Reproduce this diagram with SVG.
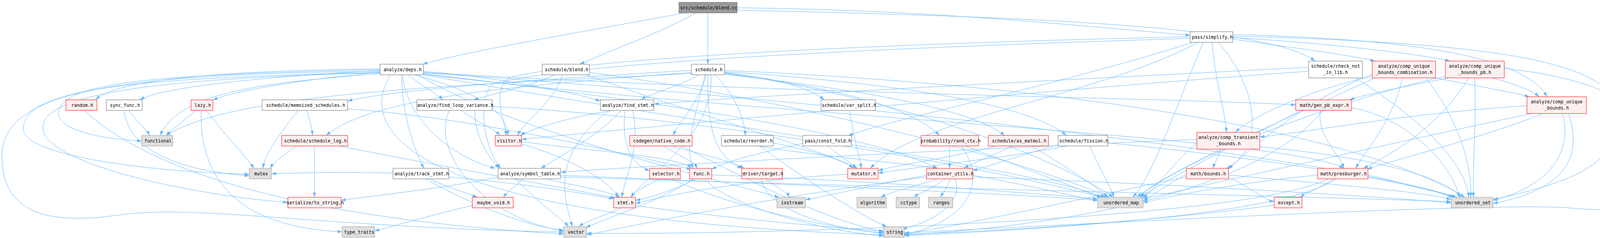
<svg xmlns="http://www.w3.org/2000/svg" width="4255" height="608" viewBox="0 0 4255 608">
<defs>
<marker id="ah" viewBox="0 0 12 8" refX="12" refY="4" markerWidth="12" markerHeight="8" orient="auto" markerUnits="userSpaceOnUse"><path d="M0,0 L12,4 L0,8 z" fill="#63B8FF"/></marker>
</defs>
<style>
.e{fill:none;stroke:#63B8FF;stroke-width:1;marker-end:url(#ah)}
.w{fill:#FFFFFF;stroke:#666666;stroke-width:1}
.r{fill:#FFF0F0;stroke:#FF0000;stroke-width:1}
.g{fill:#E0E0E0;stroke:#999999;stroke-width:1}
.root{fill:#999999;stroke:#666666;stroke-width:1}
text{font-family:"DejaVu Sans Mono","Liberation Mono",monospace;font-size:11.6px;fill:#000000;text-anchor:middle}
</style>
<rect width="4255" height="608" fill="#FFFFFF"/>
<g id="edges">
<path class="e" d="M1752,33 C1500,80 1200,130 1082,164"/>
<path class="e" d="M1782,33 C1700,80 1560,130 1484,164"/>
<path class="e" d="M1812,33 L1812,164"/>
<path class="e" d="M1887,20 C2400,25 2800,70 3047,90"/>
<path class="e" d="M1887,26 C2500,40 3250,60 3366,156"/>
<path class="e" d="M3156,100 C3300,120 3450,140 3520,156"/>
<path class="e" d="M3156,96 C3400,110 3650,140 3712,156"/>
<path class="e" d="M3156,88 C3600,100 3900,140 3960,247"/>
<path class="e" d="M3103,108 C3110,200 3135,280 3140,338"/>
<path class="e" d="M3118,108 C3220,220 3240,380 3140,430"/>
<path class="e" d="M3055,108 C2700,220 2300,300 2172,346"/>
<path class="e" d="M3068,108 C2800,250 2350,300 2228,430"/>
<path class="e" d="M3156,92 C3800,110 4150,150 4145,300 C4140,430 4000,470 3822,510"/>
<path class="e" d="M3080,108 C3000,300 2950,450 2900,504"/>
<path class="e" d="M3047,94 C2500,105 1500,140 1300,200 C1260,240 1290,300 1296,346"/>
<path class="e" d="M3047,98 C2500,115 1500,150 1260,215 C1220,260 1240,380 1282,430"/>
<path class="e" d="M3350,182 C2800,220 1700,320 1335,356"/>
<path class="e" d="M3064,356 C2500,380 1700,420 1435,440"/>
<path class="e" d="M973,176 C600,180 300,200 245,255"/>
<path class="e" d="M973,180 C700,195 420,220 358,255"/>
<path class="e" d="M975,184 C800,200 600,230 545,256"/>
<path class="e" d="M973,178 C400,190 150,210 150,290 C150,330 250,355 363,360"/>
<path class="e" d="M975,188 C700,210 460,230 410,346"/>
<path class="e" d="M973,185 C300,200 60,230 60,330 C60,400 400,440 638,445"/>
<path class="e" d="M973,186 C400,200 100,240 110,330 C120,420 500,500 737,517"/>
<path class="e" d="M973,182 C300,190 5,230 5,400 C5,560 150,570 300,550 C500,520 800,580 1443,593"/>
<path class="e" d="M1045,191 C1080,220 1120,240 1134,255"/>
<path class="e" d="M1084,182 C1300,200 1480,240 1537,258"/>
<path class="e" d="M1060,191 C1250,240 1300,300 1300,346"/>
<path class="e" d="M1030,191 C1040,300 1150,400 1268,430"/>
<path class="e" d="M1028,191 C1030,300 1060,380 1085,430"/>
<path class="e" d="M1084,188 C1600,250 2200,330 2400,430"/>
<path class="e" d="M1084,185 C2000,240 3000,250 3317,268"/>
<path class="e" d="M1084,190 C2000,300 3300,350 3440,430"/>
<path class="e" d="M1084,191 C1700,300 2600,420 2830,504"/>
<path class="e" d="M1084,186 C2200,260 3400,400 3730,504"/>
<path class="e" d="M1070,191 C1300,330 1800,450 1995,504"/>
<path class="e" d="M1000,191 C900,350 1100,560 2262,600"/>
<path class="e" d="M1420,191 C1360,220 1260,240 1212,255"/>
<path class="e" d="M1440,191 C1420,260 1340,310 1325,346"/>
<path class="e" d="M1500,191 C1800,300 2100,380 2195,430"/>
<path class="e" d="M1509,185 C2000,250 2600,400 2840,504"/>
<path class="e" d="M1770,180 C1400,200 1000,230 890,258"/>
<path class="e" d="M1770,185 C1300,220 950,250 835,346"/>
<path class="e" d="M1790,191 C1740,220 1660,240 1642,255"/>
<path class="e" d="M1808,191 C1790,260 1740,310 1723,346"/>
<path class="e" d="M1830,191 C1880,240 1905,300 1908,346"/>
<path class="e" d="M1805,191 C1780,300 1750,380 1775,430"/>
<path class="e" d="M1812,191 C1810,330 1830,400 1900,430"/>
<path class="e" d="M1855,185 C2000,200 2080,230 2110,255"/>
<path class="e" d="M1855,188 C2200,230 2350,290 2405,346"/>
<path class="e" d="M1855,190 C2300,240 2500,290 2572,346"/>
<path class="e" d="M1855,183 C2400,220 2650,280 2730,346"/>
<path class="e" d="M1770,188 C1100,220 600,240 425,346"/>
<path class="e" d="M1820,191 C1830,350 1650,450 1615,504"/>
<path class="e" d="M1855,186 C2300,250 2700,400 2850,504"/>
<path class="e" d="M1855,180 C2800,220 3500,350 3750,504"/>
<path class="e" d="M3350,172 C2800,200 2000,240 1674,266"/>
<path class="e" d="M3470,199 C3600,280 3750,400 3760,504"/>
<path class="e" d="M3675,199 C3780,220 3870,235 3915,247"/>
<path class="e" d="M3513,195 C3350,230 3200,300 3163,338"/>
<path class="e" d="M3650,199 C3730,300 3770,420 3765,504"/>
<path class="e" d="M3520,199 C3300,300 3000,430 2910,504"/>
<path class="e" d="M3513,190 C3350,250 3200,380 3145,432"/>
<path class="e" d="M3590,199 C3570,300 3500,380 3470,430"/>
<path class="e" d="M3710,199 C3600,220 3500,240 3455,255"/>
<path class="e" d="M3820,199 C3880,215 3920,230 3940,247"/>
<path class="e" d="M3760,199 C3680,330 3550,400 3490,430"/>
<path class="e" d="M3775,199 C3780,300 3770,420 3772,504"/>
<path class="e" d="M3851,175 C4100,200 4250,280 4250,400 C4250,560 4150,540 4000,530 C3800,520 3000,560 2315,595"/>
<path class="e" d="M3700,195 C3400,260 3000,420 2918,504"/>
<path class="e" d="M3909,270 C3600,290 3400,330 3225,350"/>
<path class="e" d="M3950,290 C3800,350 3600,400 3500,432"/>
<path class="e" d="M4000,290 C4030,400 3950,480 3822,512"/>
<path class="e" d="M4015,290 C4060,420 3980,490 3822,520"/>
<path class="e" d="M3920,290 C3500,380 3100,470 2926,508"/>
<path class="e" d="M3380,282 C3370,350 3430,390 3440,430"/>
<path class="e" d="M3460,275 C3600,300 3720,420 3735,504"/>
<path class="e" d="M3330,282 C3200,350 3000,450 2920,504"/>
<path class="e" d="M3385,282 C3300,400 3000,560 2315,600"/>
<path class="e" d="M3125,381 C3120,400 3110,415 3105,430"/>
<path class="e" d="M3225,375 C3500,400 3700,450 3740,504"/>
<path class="e" d="M3064,365 C3000,420 2960,480 2926,506"/>
<path class="e" d="M3037,445 C2990,470 2950,500 2926,514"/>
<path class="e" d="M3145,447 C3400,470 3650,490 3715,510"/>
<path class="e" d="M3037,452 C2800,500 2500,570 2315,597"/>
<path class="e" d="M3145,452 C3200,480 3240,510 3262,516"/>
<path class="e" d="M3415,457 C3380,480 3340,495 3328,504"/>
<path class="e" d="M3502,447 C3600,470 3700,495 3725,504"/>
<path class="e" d="M3420,457 C3300,540 2800,580 2315,602"/>
<path class="e" d="M3400,457 C3200,560 2000,600 1502,596"/>
<path class="e" d="M3373,447 C3150,470 3000,500 2926,518"/>
<path class="e" d="M215,282 C400,450 800,560 1443,598"/>
<path class="e" d="M330,282 C350,310 375,330 383,346"/>
<path class="e" d="M318,282 C330,400 500,440 638,449"/>
<path class="e" d="M500,282 C470,310 440,330 425,346"/>
<path class="e" d="M528,282 C580,350 630,400 650,430"/>
<path class="e" d="M515,282 C510,450 600,580 876,592"/>
<path class="e" d="M785,282 C790,300 798,320 800,346"/>
<path class="e" d="M763,282 C710,350 680,390 673,430"/>
<path class="e" d="M890,278 C1200,300 1550,380 1770,433"/>
<path class="e" d="M1180,282 C1220,310 1265,330 1280,346"/>
<path class="e" d="M1215,282 C1215,350 1250,400 1278,430"/>
<path class="e" d="M1150,282 C1100,400 1250,560 1443,590"/>
<path class="e" d="M1260,272 C1800,300 2500,420 2820,504"/>
<path class="e" d="M1570,282 C1450,300 1360,330 1332,346"/>
<path class="e" d="M1600,282 C1590,380 1620,420 1663,436"/>
<path class="e" d="M1590,282 C1530,350 1430,400 1385,430"/>
<path class="e" d="M1620,282 C1640,380 1600,450 1592,504"/>
<path class="e" d="M1560,282 C1400,400 1450,520 1465,579"/>
<path class="e" d="M2175,282 C2185,350 2200,400 2205,430"/>
<path class="e" d="M1335,368 C1450,400 1560,460 1583,504"/>
<path class="e" d="M1335,362 C1550,390 1740,400 1770,430"/>
<path class="e" d="M1700,373 C1740,400 1775,410 1785,430"/>
<path class="e" d="M1720,373 C1820,400 1880,415 1905,430"/>
<path class="e" d="M1745,373 C1900,450 2100,560 2262,592"/>
<path class="e" d="M1980,365 C2100,390 2160,410 2185,430"/>
<path class="e" d="M1940,373 C2100,400 2300,415 2400,430"/>
<path class="e" d="M1945,373 C2050,450 2200,550 2270,579"/>
<path class="e" d="M2120,373 C2150,400 2180,415 2192,430"/>
<path class="e" d="M2060,365 C1950,390 1860,410 1822,433"/>
<path class="e" d="M2431,373 L2431,430"/>
<path class="e" d="M2460,373 C2520,450 2500,560 2315,599"/>
<path class="e" d="M2470,373 C2600,420 2750,480 2820,504"/>
<path class="e" d="M2590,373 C2540,400 2490,415 2468,430"/>
<path class="e" d="M2550,373 C2450,400 2300,420 2248,436"/>
<path class="e" d="M2640,373 C2720,420 2800,470 2835,504"/>
<path class="e" d="M2709,370 C2600,400 2530,425 2490,436"/>
<path class="e" d="M2730,373 C2600,400 2400,420 2248,442"/>
<path class="e" d="M2790,373 C2810,420 2840,470 2852,504"/>
<path class="e" d="M2836,365 C3200,400 3600,460 3720,504"/>
<path class="e" d="M1006,442 C900,440 800,440 695,444"/>
<path class="e" d="M1100,457 C1150,480 1200,495 1222,504"/>
<path class="e" d="M1149,452 C1350,470 1500,495 1571,508"/>
<path class="e" d="M1090,457 C1200,520 1350,580 1443,588"/>
<path class="e" d="M1340,457 C1320,475 1300,490 1288,504"/>
<path class="e" d="M1395,457 C1480,475 1560,490 1588,504"/>
<path class="e" d="M1320,457 C1380,520 1440,560 1455,579"/>
<path class="e" d="M1435,448 C2000,470 2600,495 2810,512"/>
<path class="e" d="M1435,452 C2300,480 3300,500 3715,515"/>
<path class="e" d="M1275,452 C1150,480 950,500 873,512"/>
<path class="e" d="M1690,457 C1650,475 1625,490 1615,504"/>
<path class="e" d="M1720,457 C1850,520 2100,580 2262,596"/>
<path class="e" d="M1780,457 C1720,490 1660,505 1627,512"/>
<path class="e" d="M1775,457 C1680,520 1540,560 1500,582"/>
<path class="e" d="M1805,457 C1850,520 2100,590 2262,603"/>
<path class="e" d="M1822,447 C2200,460 2600,490 2810,508"/>
<path class="e" d="M1960,457 C1990,480 2015,490 2020,504"/>
<path class="e" d="M1950,457 C1960,540 2150,590 2262,594"/>
<path class="e" d="M2170,445 C1900,460 1700,500 1627,520"/>
<path class="e" d="M2400,457 C2330,480 2280,490 2255,504"/>
<path class="e" d="M2420,457 C2390,480 2350,495 2340,504"/>
<path class="e" d="M2433,457 C2425,480 2412,495 2408,504"/>
<path class="e" d="M2372,448 C2250,470 2120,500 2062,510"/>
<path class="e" d="M2445,457 C2470,520 2380,570 2310,585"/>
<path class="e" d="M2490,448 C2620,470 2740,500 2810,512"/>
<path class="e" d="M2490,452 C3000,470 3500,500 3715,518"/>
<path class="e" d="M2372,452 C2000,500 1700,560 1502,600"/>
<path class="e" d="M1590,531 C1550,550 1500,565 1482,579"/>
<path class="e" d="M1627,525 C1800,550 2100,580 2262,590"/>
<path class="e" d="M1209,525 C1100,550 1000,580 959,590"/>
<path class="e" d="M805,373 L805,504"/>
<path class="e" d="M760,373 C720,400 700,415 692,430"/>
<path class="e" d="M870,373 C1100,420 1450,480 1575,506"/>
<path class="e" d="M3262,524 C3000,560 2600,590 2315,598"/>
</g>
<g id="n_blend_cc"><rect class="root" x="1738" y="6" width="149" height="27"/><text x="1814.5" y="23.5">src/schedule/blend.cc</text></g>
<g id="n_simplify"><rect class="w" x="3047" y="81" width="109" height="27"/><text x="3103.5" y="98.5">pass/simplify.h</text></g>
<g id="n_deps"><rect class="w" x="973" y="164" width="111" height="27"/><text x="1030.5" y="181.5">analyze/deps.h</text></g>
<g id="n_blend_h"><rect class="w" x="1388" y="164" width="121" height="27"/><text x="1450.5" y="181.5">schedule/blend.h</text></g>
<g id="n_schedule_h"><rect class="w" x="1770" y="164" width="85" height="27"/><text x="1814.5" y="181.5">schedule.h</text></g>
<g id="n_check_not_in_lib"><rect class="w" x="3350" y="156" width="138" height="43"/><text x="3419" y="173">schedule/check_not</text><text x="3419" y="189">_in_lib.h</text></g>
<g id="n_cub_comb"><rect class="r" x="3513" y="156" width="162" height="43"/><text x="3594" y="173">analyze/comp_unique</text><text x="3594" y="189">_bounds_combination.h</text></g>
<g id="n_cub_pb"><rect class="r" x="3700" y="156" width="151" height="43"/><text x="3775.5" y="173">analyze/comp_unique</text><text x="3775.5" y="189">_bounds_pb.h</text></g>
<g id="n_random"><rect class="r" x="169" y="255" width="79" height="27"/><text x="210.5" y="272.5">random.h</text></g>
<g id="n_sync_func"><rect class="w" x="272" y="255" width="92" height="27"/><text x="320" y="272.5">sync_func.h</text></g>
<g id="n_lazy"><rect class="r" x="489" y="255" width="56" height="27"/><text x="519" y="272.5">lazy.h</text></g>
<g id="n_memoized"><rect class="w" x="671" y="255" width="219" height="27"/><text x="782.5" y="272.5">schedule/memoized_schedules.h</text></g>
<g id="n_find_loop_variance"><rect class="w" x="1067" y="255" width="193" height="27"/><text x="1165.5" y="272.5">analyze/find_loop_variance.h</text></g>
<g id="n_find_stmt"><rect class="w" x="1537" y="255" width="137" height="27"/><text x="1607.5" y="272.5">analyze/find_stmt.h</text></g>
<g id="n_var_split"><rect class="w" x="2102" y="255" width="139" height="27"/><text x="2173.5" y="272.5">schedule/var_split.h</text></g>
<g id="n_gen_pb_expr"><rect class="r" x="3317" y="255" width="143" height="27"/><text x="3390.5" y="272.5">math/gen_pb_expr.h</text></g>
<g id="n_cub"><rect class="r" x="3909" y="247" width="152" height="43"/><text x="3985" y="264">analyze/comp_unique</text><text x="3985" y="280">_bounds.h</text></g>
<g id="n_functional"><rect class="g" x="363" y="346" width="79" height="27"/><text x="404.5" y="363.5">functional</text></g>
<g id="n_schedule_log"><rect class="r" x="721" y="346" width="169" height="27"/><text x="807.5" y="363.5">schedule/schedule_log.h</text></g>
<g id="n_visitor"><rect class="r" x="1268" y="346" width="67" height="27"/><text x="1303.5" y="363.5">visitor.h</text></g>
<g id="n_native_code"><rect class="r" x="1612" y="346" width="160" height="27"/><text x="1694" y="363.5">codegen/native_code.h</text></g>
<g id="n_reorder"><rect class="w" x="1847" y="346" width="133" height="27"/><text x="1915.5" y="363.5">schedule/reorder.h</text></g>
<g id="n_const_fold"><rect class="w" x="2055" y="346" width="125" height="27"/><text x="2119.5" y="363.5">pass/const_fold.h</text></g>
<g id="n_rand_ctx"><rect class="r" x="2358" y="346" width="147" height="27"/><text x="2433.5" y="363.5">probability/rand_ctx.h</text></g>
<g id="n_as_matmul"><rect class="r" x="2530" y="346" width="154" height="27"/><text x="2609" y="363.5">schedule/as_matmul.h</text></g>
<g id="n_fission"><rect class="w" x="2709" y="346" width="127" height="27"/><text x="2774.5" y="363.5">schedule/fission.h</text></g>
<g id="n_comp_transient_bounds"><rect class="r" x="3064" y="338" width="161" height="43"/><text x="3144.5" y="355">analyze/comp_transient</text><text x="3144.5" y="371">_bounds.h</text></g>
<g id="n_mutex"><rect class="g" x="638" y="430" width="57" height="27"/><text x="668.5" y="447.5">mutex</text></g>
<g id="n_track_stmt"><rect class="w" x="1006" y="430" width="143" height="27"/><text x="1079.5" y="447.5">analyze/track_stmt.h</text></g>
<g id="n_symbol_table"><rect class="w" x="1275" y="430" width="160" height="27"/><text x="1357" y="447.5">analyze/symbol_table.h</text></g>
<g id="n_selector"><rect class="r" x="1663" y="430" width="79" height="27"/><text x="1704.5" y="447.5">selector.h</text></g>
<g id="n_func"><rect class="r" x="1765" y="430" width="57" height="27"/><text x="1795.5" y="447.5">func.h</text></g>
<g id="n_target"><rect class="r" x="1899" y="430" width="104" height="27"/><text x="1953" y="447.5">driver/target.h</text></g>
<g id="n_mutator"><rect class="r" x="2170" y="430" width="78" height="27"/><text x="2211" y="447.5">mutator.h</text></g>
<g id="n_container_utils"><rect class="r" x="2372" y="430" width="118" height="27"/><text x="2433" y="447.5">container_utils.h</text></g>
<g id="n_bounds"><rect class="r" x="3037" y="430" width="108" height="27"/><text x="3093" y="447.5">math/bounds.h</text></g>
<g id="n_presburger"><rect class="r" x="3373" y="430" width="129" height="27"/><text x="3439.5" y="447.5">math/presburger.h</text></g>
<g id="n_to_string"><rect class="r" x="737" y="504" width="136" height="27"/><text x="807" y="521.5">serialize/to_string.h</text></g>
<g id="n_maybe_void"><rect class="r" x="1209" y="504" width="105" height="27"/><text x="1263.5" y="521.5">maybe_void.h</text></g>
<g id="n_stmt"><rect class="r" x="1571" y="504" width="56" height="27"/><text x="1601" y="521.5">stmt.h</text></g>
<g id="n_iostream"><rect class="g" x="1989" y="504" width="73" height="27"/><text x="2027.5" y="521.5">iostream</text></g>
<g id="n_algorithm"><rect class="g" x="2194" y="504" width="75" height="27"/><text x="2233.5" y="521.5">algorithm</text></g>
<g id="n_cctype"><rect class="g" x="2294" y="504" width="60" height="27"/><text x="2326" y="521.5">cctype</text></g>
<g id="n_ranges"><rect class="g" x="2377" y="504" width="62" height="27"/><text x="2410" y="521.5">ranges</text></g>
<g id="n_unordered_map"><rect class="g" x="2810" y="504" width="116" height="27"/><text x="2870" y="521.5">unordered_map</text></g>
<g id="n_except"><rect class="r" x="3262" y="504" width="71" height="27"/><text x="3299.5" y="521.5">except.h</text></g>
<g id="n_unordered_set"><rect class="g" x="3715" y="504" width="107" height="27"/><text x="3770.5" y="521.5">unordered_set</text></g>
<g id="n_type_traits"><rect class="g" x="876" y="579" width="83" height="27"/><text x="919.5" y="596.5">type_traits</text></g>
<g id="n_vector"><rect class="g" x="1443" y="579" width="59" height="27"/><text x="1474.5" y="596.5">vector</text></g>
<g id="n_string"><rect class="g" x="2262" y="579" width="53" height="27"/><text x="2290.5" y="596.5">string</text></g>
</svg>
